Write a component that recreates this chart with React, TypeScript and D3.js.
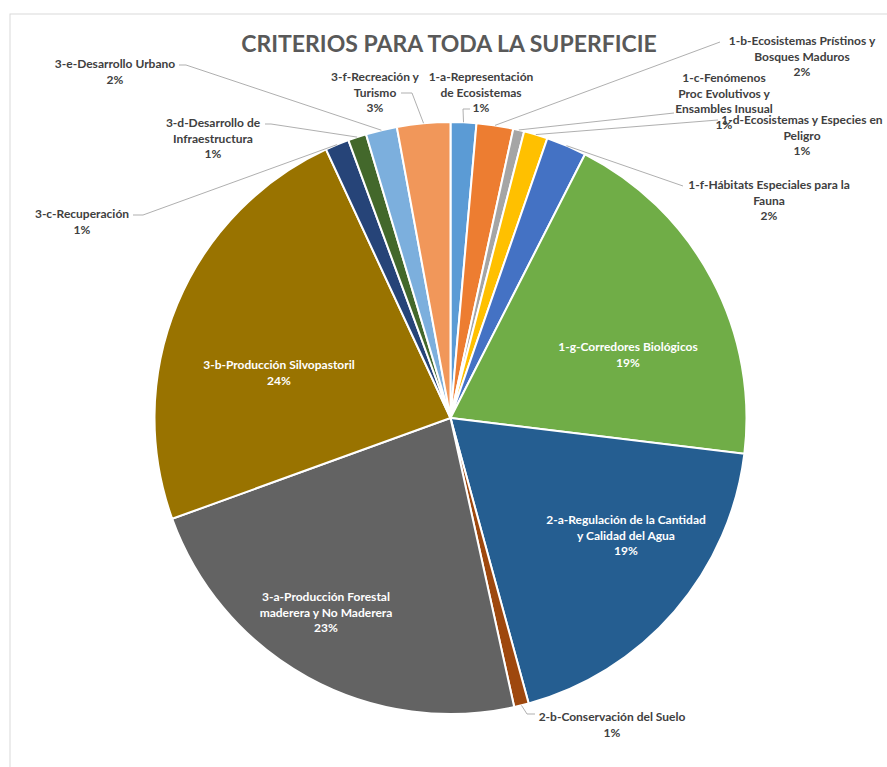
import React from "react";
import * as d3 from "d3";

const categories = [
  "1-a-Representación de Ecosistemas",
  "1-b-Ecosistemas Prístinos y Bosques Maduros",
  "1-c-Fenómenos Proc Evolutivos y Ensambles Inusual",
  "1-d-Ecosistemas y Especies en Peligro",
  "1-f-Hábitats Especiales para la Fauna",
  "1-g-Corredores Biológicos",
  "2-a-Regulación de la Cantidad y Calidad del Agua",
  "2-b-Conservación del Suelo",
  "3-a-Producción Forestal maderera y No Maderera",
  "3-b-Producción Silvopastoril",
  "3-c-Recuperación",
  "3-d-Desarrollo de Infraestructura",
  "3-e-Desarrollo Urbano",
  "3-f-Recreación y Turismo",
];

const values = [1.4, 2.0, 0.6, 1.3, 2.2, 19.4, 18.8, 0.8, 22.9, 23.6, 1.3, 1.0, 1.7, 2.9];

const colors = [
  "#5B9BD5", "#ED7D31", "#A5A5A5", "#FFC000", "#4472C4", "#70AD47",
  "#255E91", "#9E480E", "#636363", "#997300", "#264478", "#43682B",
  "#7CAFDD", "#F1975A",
];

// Label text lines (category name broken as in the chart)
const labelLines = [
  ["1-a-Representación", "de Ecosistemas"],
  ["1-b-Ecosistemas Prístinos y", "Bosques Maduros"],
  ["1-c-Fenómenos", "Proc Evolutivos y", "Ensambles Inusual"],
  ["1-d-Ecosistemas y Especies en", "Peligro"],
  ["1-f-Hábitats Especiales para la", "Fauna"],
  ["1-g-Corredores Biológicos"],
  ["2-a-Regulación de la Cantidad", "y Calidad del Agua"],
  ["2-b-Conservación del Suelo"],
  ["3-a-Producción Forestal", "maderera y No Maderera"],
  ["3-b-Producción Silvopastoril"],
  ["3-c-Recuperación"],
  ["3-d-Desarrollo de", "Infraestructura"],
  ["3-e-Desarrollo Urbano"],
  ["3-f-Recreación y", "Turismo"],
];

const title = "CRITERIOS PARA TODA LA SUPERFICIE";

// layout (positions of labels and leader lines)
type Layout = { cx: number; y: number; inside: boolean; leader?: [number, number][] };
const layout: Layout[] = [
  { cx: 481, y: 81, inside: false, leader: [[470, 109], [463, 109]] },
  { cx: 802, y: 45, inside: false, leader: [[720, 42]] },
  { cx: 724, y: 82, inside: false, leader: [[674, 113]] },
  { cx: 802, y: 124, inside: false, leader: [[718, 120]] },
  { cx: 769, y: 189, inside: false, leader: [[683, 186]] },
  { cx: 628, y: 351, inside: true },
  { cx: 626, y: 524, inside: true },
  { cx: 612, y: 721, inside: false, leader: [[535, 714], [527, 714]] },
  { cx: 326, y: 601, inside: true },
  { cx: 279, y: 369, inside: true },
  { cx: 82, y: 218, inside: false, leader: [[133, 215], [143, 215]] },
  { cx: 213, y: 127, inside: false, leader: [[265, 124], [271, 124]] },
  { cx: 115, y: 68, inside: false, leader: [[179, 65], [186, 65]] },
  { cx: 375, y: 81, inside: false, leader: [[401, 93], [412, 93]] },
];

const W = 887;
const H = 767;
const CX = 450.5;
const CY = 418;
const R = 296;
const LINE = 15.5;
const FONT = "Lato, 'Open Sans', sans-serif";

export default function App() {
  const total = d3.sum(values);
  const pie = d3
    .pie<number>()
    .sort(null)
    .value((d) => d)
    .startAngle(0)
    .endAngle(2 * Math.PI);
  const arcs = pie(values);
  const arc = d3.arc<d3.PieArcDatum<number>>().innerRadius(0).outerRadius(R);
  const edgeArc = d3.arc<d3.PieArcDatum<number>>().innerRadius(R).outerRadius(R);
  const fmt = (v: number) => `${Math.round((v / total) * 100)}%`;

  return (
    <svg
      width={W}
      height={H}
      style={{ position: "absolute", left: 0, top: 0, background: "#fff" }}
    >
      <rect x={10} y={14} width={W + 20} height={H + 20} fill="#fff" stroke="#d9d9d9" strokeWidth={1} />
      <text
        x={449}
        y={52}
        textAnchor="middle"
        fontFamily={FONT}
        fontWeight={700}
        fontSize={23}
        fill="#595959"
      >
        {title}
      </text>
      <g transform={`translate(${CX},${CY})`}>
        {arcs.map((a, i) => (
          <path key={i} d={arc(a) || ""} fill={colors[i]} stroke="#fff" strokeWidth={2} />
        ))}
      </g>
      {arcs.map((a, i) => {
        const L = layout[i];
        if (L.inside || !L.leader) return null;
        const [ex, ey] = edgeArc.centroid(a);
        const pts: [number, number][] = [...L.leader, [ex + CX, ey + CY]];
        const line = d3.line()(pts) || "";
        return <path key={"l" + i} d={line} fill="none" stroke="#a6a6a6" strokeWidth={0.9} />;
      })}
      {arcs.map((a, i) => {
        const L = layout[i];
        const lines = [...labelLines[i], fmt(values[i])];
        return (
          <text
            key={"t" + i}
            textAnchor="middle"
            fontFamily={FONT}
            fontWeight={700}
            fontSize={12}
            fill={L.inside ? "#ffffff" : "#404040"}
          >
            {lines.map((s, j) => (
              <tspan key={j} x={L.cx} y={L.y + j * LINE}>
                {s}
              </tspan>
            ))}
          </text>
        );
      })}
    </svg>
  );
}
